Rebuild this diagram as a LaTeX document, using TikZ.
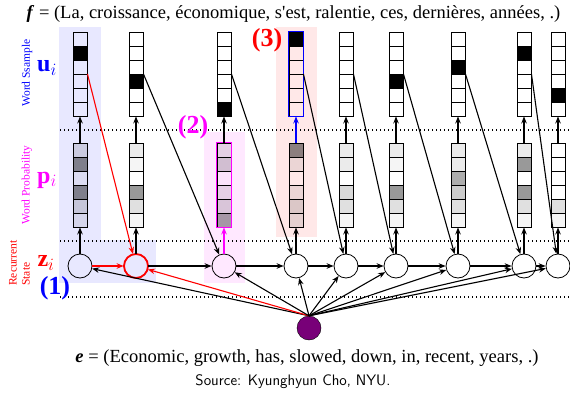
\documentclass[tikz,border=0pt]{standalone}
\usepackage{fontspec}
\setmainfont{Liberation Serif}
\usetikzlibrary{arrows.meta}
\definecolor{encnode}{RGB}{120,0,120}
\definecolor{mag}{RGB}{255,0,255}
\tikzset{
  vec/.style={draw, line width=0.9pt, minimum width=14pt, minimum height=84pt, inner sep=0pt},
  cellline/.style={line width=0.6pt},
  state/.style={draw, circle, minimum size=24pt, inner sep=0pt, line width=0.8pt},
  arr/.style={-{Stealth[length=7pt,width=5.5pt]}, line width=1.1pt},
  sep/.style={line width=1.1pt, dash pattern=on 1.1pt off 2.9pt},
  tag/.style={font=\fontsize{26}{28}\selectfont\bfseries},
  sym/.style={font=\fontsize{24}{26}\selectfont},
  side/.style={rotate=90, font=\fontsize{11.5}{13}\selectfont},
}
\begin{document}
\begin{tikzpicture}[x=1pt, y=1pt]
\useasboundingbox (0,0) rectangle (570,392);
% highlighted steps
\fill[blue!9] (59,109) rectangle (101,365);
\fill[blue!9] (59,109) rectangle (156,152);
\fill[mag!9] (204,109) rectangle (245,260);
\fill[red!9] (276,155) rectangle (317,365);
% layer separators
\foreach \y in {262,151,95}
  \draw[sep] (60,\y) -- (570,\y);

% columns: x, word probabilities and sampled word
\foreach \i/\x/\pa/\pb/\pc/\pd/\pe/\pf/\w in {
    1/80/.12/.45/.05/.45/.15/.08/2,
    2/136/.08/.04/0/.4/.12/.04/4,
    3/224/.1/.18/.02/.1/.15/.35/6,
    4/296/.45/.08/0/.08/.14/.1/1,
    5/346/.08/.08/0/.15/.12/.04/0,
    6/396/.08/.04/0/.4/.12/.04/4,
    7/458/.08/.08/.32/.2/.12/.04/3,
    8/524/.08/.4/0/.4/.12/.04/2,
    9/558/0/0/0/0/.12/.04/5} {
  \foreach \v [count=\k] in {\pa,\pb,\pc,\pd,\pe,\pf}
    \fill[black, fill opacity=\v] ({\x-7},{249-14*\k}) rectangle ++(14,14);
  \ifnum\w>0
    \fill ({\x-7},{360-14*\w}) rectangle ++(14,14);
  \fi
  \foreach \k in {1,...,5} {
    \draw[cellline] ({\x-7},{360-14*\k}) -- ++(14,0);
    \draw[cellline] ({\x-7},{249-14*\k}) -- ++(14,0);
  }
  \node[vec] (u\i) at (\x,318) {};
  \node[vec] (p\i) at (\x,207) {};
  \node[state] (z\i) at (\x,126) {};
}
\draw[mag, line width=1.6pt] (p3.north west) rectangle (p3.south east);
\draw[blue, line width=1.6pt] (u4.north west) rectangle (u4.south east);
\draw[red, line width=1.8pt] (z2) circle (12pt);

\node[circle, draw, fill=encnode, minimum size=24pt, inner sep=0pt] (e) at (309,64) {};

\foreach \i/\zc/\uc in {1/black/black,2/black/black,3/mag/black,4/black/blue,
    5/black/black,6/black/black,7/black/black,8/black/black,9/black/black} {
  \draw[arr, \zc] (z\i) -- (p\i);
  \draw[arr, \uc] (p\i) -- (u\i);
}
\foreach \j/\i/\c in {1/2/red,2/3/black,3/4/black,4/5/black,5/6/black,6/7/black,7/8/black,8/9/black} {
  \draw[arr, \c] (z\j) -- (z\i);
  \draw[arr, \c] (u\j.east) -- (z\i);
}
\foreach \i/\c in {1/black,2/red,3/black,4/black,5/black,6/black,7/black,8/black,9/black}
  \draw[arr, \c] (e.north) -- (z\i);

% labels
\node[blue, side] (ulab) at (27,319) {Word Ssample};
\node[blue, sym] (usym) at (47,324) {\textbf{u}$_i$};
\node[mag, side] (plab) at (27,207) {Word Probability};
\node[mag, sym] (psym) at (47,212) {\textbf{p}$_i$};
\node[red, side, align=left] (zlab) at (19.5,129) {Recurrent\\State};
\node[red, sym] (zsym) at (46,129) {\textbf{z}$_i$};
\node[blue, tag] (one) at (55,104) {(1)};
\node[mag, tag] (two) at (193,265) {(2)};
\node[red, tag] (three) at (267,352) {(3)};

\node[font=\fontsize{18.5}{20}\selectfont] (ftext) at (293.5,378) {\textbf{\textit{f}} = (La, croissance, économique, s\textquotesingle est, ralentie, ces, dernières, années, .)};
\node[font=\fontsize{18.5}{20}\selectfont] (etext) at (307,34) {\textbf{\textit{e}} = (Economic, growth, has, slowed, down, in, recent, years, .)};
\node[font=\sffamily\fontsize{15.2}{17}\selectfont] (src) at (293,10) {Source: Kyunghyun Cho, NYU.};
\end{tikzpicture}
\end{document}
